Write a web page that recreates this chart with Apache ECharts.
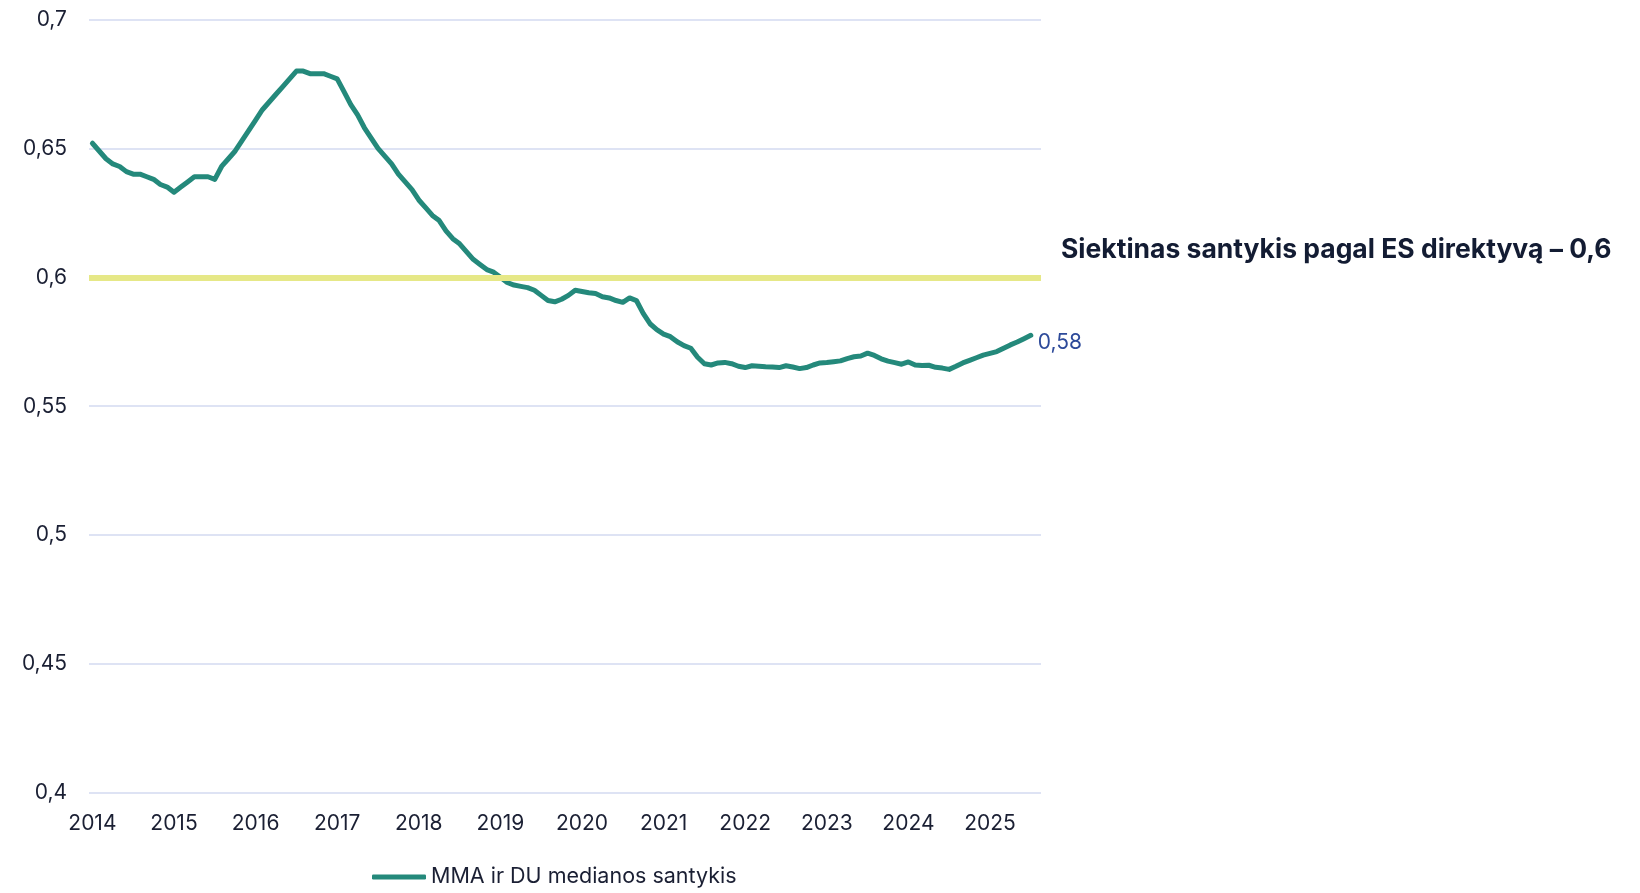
<!DOCTYPE html>
<html>
<head>
<meta charset="utf-8">
<script src="https://cdn.jsdelivr.net/npm/echarts@6/dist/echarts.min.js"></script>
<style>
  html, body { margin: 0; padding: 0; background: #fff; }
  #chart { width: 1640px; height: 893px; }
</style>
</head>
<body>
<div id="chart"></div>
<script>
// metai (ašies žymės)
const years = ['2014', '2015', '2016', '2017', '2018', '2019', '2020', '2021', '2022', '2023', '2024', '2025'];
// mėnesinės reikšmės: MMA ir DU medianos santykis
const v2014 = [0.652, 0.649, 0.646, 0.644, 0.643, 0.641, 0.640, 0.640, 0.639, 0.638, 0.636, 0.635];
const v2015 = [0.633, 0.635, 0.637, 0.639, 0.639, 0.639, 0.638, 0.643, 0.646, 0.649, 0.653, 0.657];
const v2016 = [0.661, 0.665, 0.668, 0.671, 0.674, 0.677, 0.680, 0.680, 0.679, 0.679, 0.679, 0.678];
const v2017 = [0.677, 0.672, 0.667, 0.663, 0.658, 0.654, 0.650, 0.647, 0.644, 0.640, 0.637, 0.634];
const v2018 = [0.630, 0.627, 0.624, 0.622, 0.618, 0.615, 0.613, 0.610, 0.607, 0.605, 0.603, 0.602];
const v2019 = [0.600, 0.598, 0.597, 0.5965, 0.596, 0.595, 0.593, 0.591, 0.5905, 0.5915, 0.593, 0.595];
const v2020 = [0.5945, 0.594, 0.5937, 0.5925, 0.592, 0.591, 0.5903, 0.592, 0.591, 0.586, 0.582, 0.5797];
const v2021 = [0.578, 0.577, 0.575, 0.5735, 0.5725, 0.569, 0.5665, 0.566, 0.5668, 0.567, 0.5665, 0.5655];
const v2022 = [0.565, 0.5657, 0.5655, 0.5653, 0.5652, 0.565, 0.5657, 0.5652, 0.5646, 0.565, 0.566, 0.5668];
const v2023 = [0.567, 0.5673, 0.5676, 0.5685, 0.5692, 0.5695, 0.5706, 0.5697, 0.5684, 0.5675, 0.5669, 0.5663];
const v2024 = [0.5672, 0.566, 0.5658, 0.5659, 0.5651, 0.5648, 0.5643, 0.5655, 0.5668, 0.5678, 0.5688, 0.5698];
const v2025 = [0.5705, 0.5712, 0.5725, 0.5738, 0.5749, 0.5762, 0.5775];
const lastMonth2025 = 8; // ašis tęsiasi iki rugpjūčio
const targetValue = 0.6;
const targetText = 'Siektinas santykis pagal ES direktyvą – 0,6';
const seriesName = 'MMA ir DU medianos santykis';

const months = [];
years.forEach((y) => {
  const n = y === '2025' ? lastMonth2025 : 12;
  for (let m = 1; m <= n; m++) months.push(y + '-' + String(m).padStart(2, '0'));
});
const values = [].concat(v2014, v2015, v2016, v2017, v2018, v2019, v2020, v2021, v2022, v2023, v2024, v2025);

const fmt = (v) => parseFloat(v.toFixed(2)).toString().replace('.', ',');
const font = 'Inter, "Noto Sans", sans-serif';

const chart = echarts.init(document.getElementById('chart'));
chart.setOption({
  animation: false,
  textStyle: { fontFamily: font },
  title: {
    text: targetText,
    left: 1056,
    top: 232,
    textStyle: { fontSize: 26.5, fontWeight: 'bold', color: '#131c33', fontFamily: font }
  },
  grid: { left: 89, right: 599, top: 19.5, bottom: 100 },
  legend: {
    bottom: 0,
    left: 367,
    itemWidth: 54,
    itemHeight: 5,
    itemGap: 6,
    icon: 'roundRect',
    textStyle: { fontSize: 21.5, color: '#1a1f33', fontFamily: font },
    data: [seriesName]
  },
  xAxis: {
    type: 'category',
    data: months,
    boundaryGap: true,
    axisLine: { show: false },
    axisTick: { show: false },
    axisLabel: {
      interval: (i) => i % 12 === 0,
      formatter: (v) => v.slice(0, 4),
      fontSize: 21,
      color: '#1a1f33',
      margin: 20
    }
  },
  yAxis: {
    type: 'value',
    min: 0.4,
    max: 0.7,
    interval: 0.05,
    axisLabel: { formatter: fmt, fontSize: 21, color: '#1a1f33', margin: 22 },
    splitLine: { lineStyle: { color: '#d3daf0', width: 1.5 } }
  },
  series: [
    {
      name: seriesName,
      type: 'line',
      data: values,
      showSymbol: false,
      symbol: 'none',
      lineStyle: { color: '#24897b', width: 5, cap: 'round', join: 'round' },
      itemStyle: { color: '#24897b' },
      endLabel: {
        show: true,
        formatter: (p) => fmt(p.value),
        color: '#2d4a9a',
        fontSize: 21,
        distance: 7,
        offset: [0, 7]
      },
      markLine: {
        silent: true,
        symbol: 'none',
        label: { show: false },
        lineStyle: { color: '#e6e887', width: 6, type: 'solid' },
        data: [{ yAxis: targetValue }]
      },
      z: 3
    }
  ]
});
</script>
</body>
</html>
